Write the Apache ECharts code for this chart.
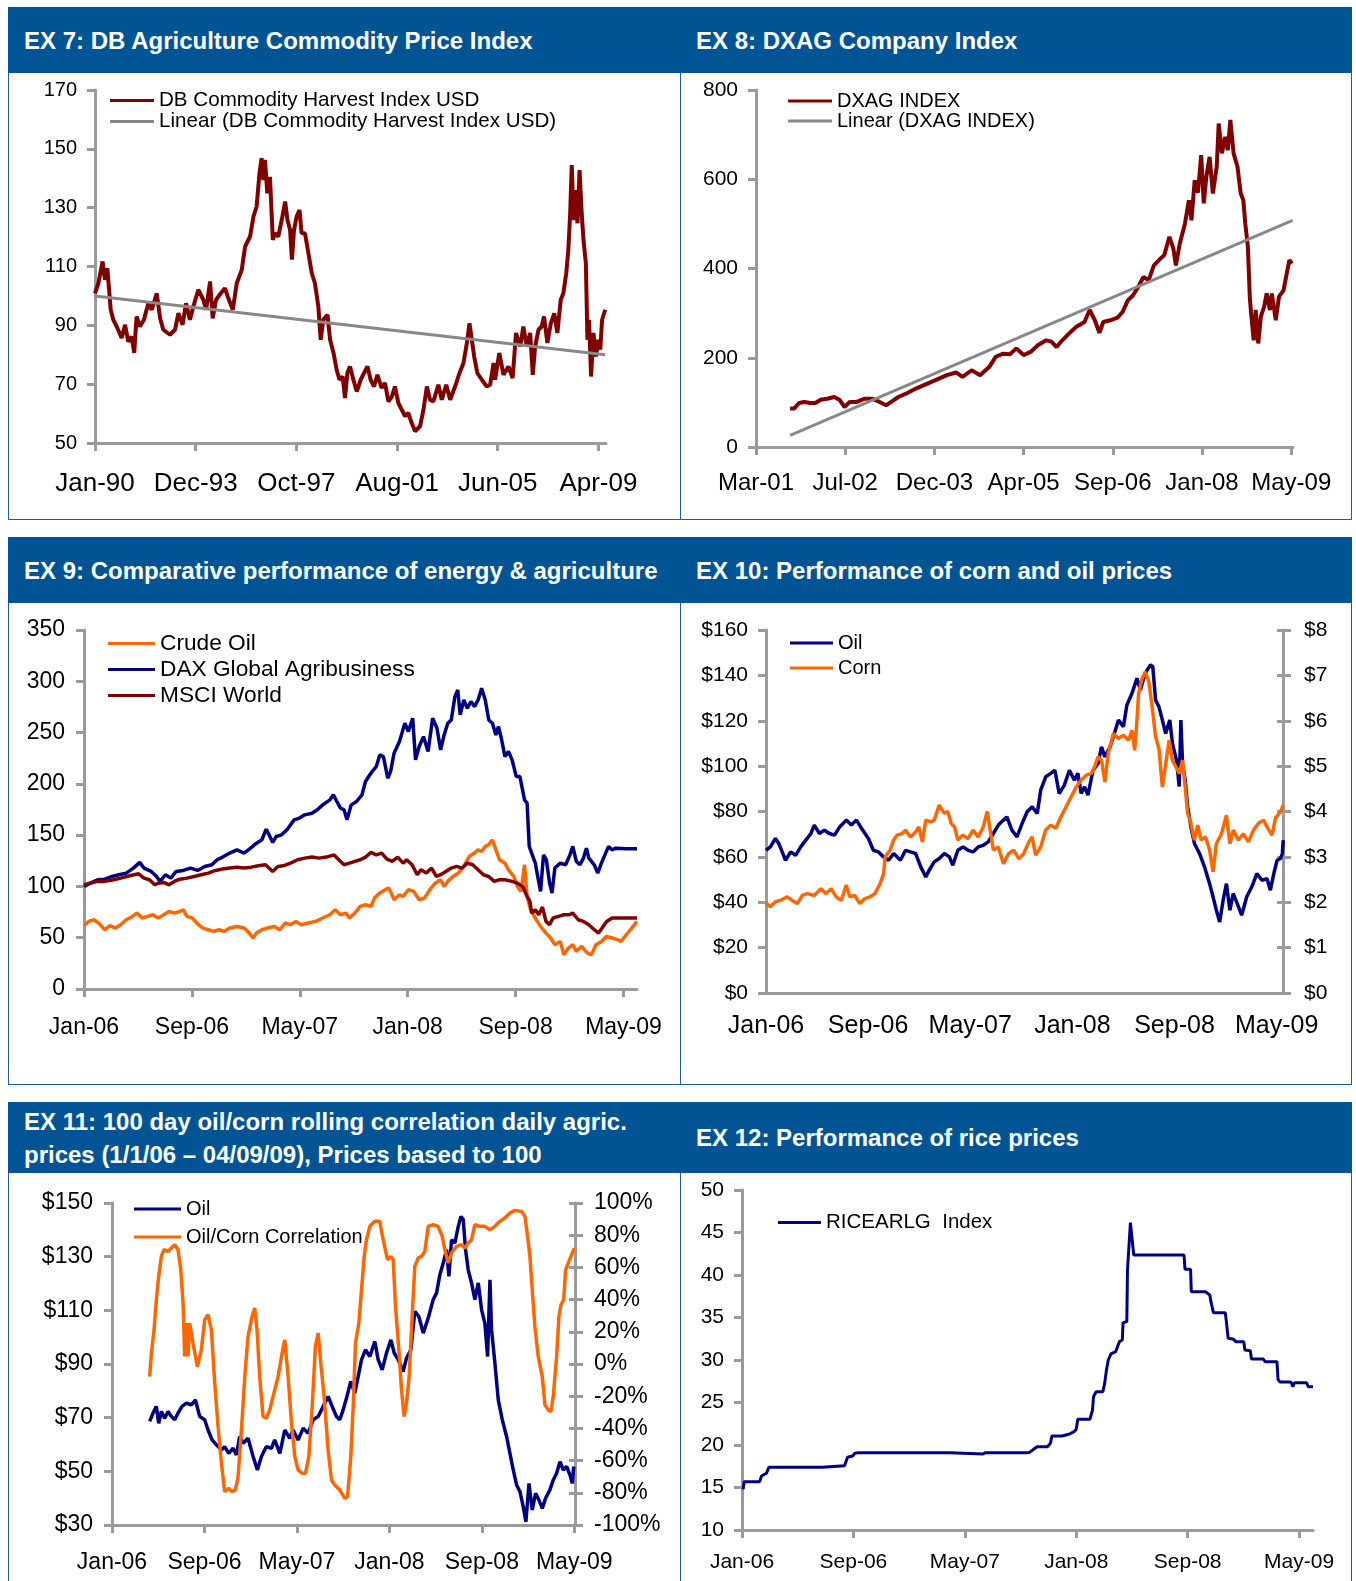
<!DOCTYPE html>
<html lang="en">
<head>
<meta charset="UTF-8" />
<title>Agriculture commodity charts</title>
<script src="https://cdn.jsdelivr.net/npm/echarts@6/dist/echarts.min.js"></script>
<style>
  body { margin: 0; background: #fff; font-family: "Liberation Sans", Arial, sans-serif; }
  #page { position: relative; width: 1356px; height: 1581px; overflow: hidden; }
  .hdr { position: absolute; background: #005493; color: #fff; font-weight: bold; font-size: 24px;
         box-sizing: border-box; padding-left: 16px; display: flex; align-items: center; line-height: 33px; }
  .box { position: absolute; border: 1.5px solid #1d5d9b; border-top: none; box-sizing: border-box; }
  #chart { position: absolute; left: 0; top: 0; width: 1356px; height: 1581px; }
</style>
</head>
<body>
<div id="page">
  <div class="box" style="left:8px;top:73px;width:673px;height:447px"></div>
  <div class="box" style="left:680px;top:73px;width:672px;height:447px"></div>
  <div class="box" style="left:8px;top:603px;width:673px;height:482px"></div>
  <div class="box" style="left:680px;top:603px;width:672px;height:482px"></div>
  <div class="box" style="left:8px;top:1173px;width:673px;height:430px"></div>
  <div class="box" style="left:680px;top:1173px;width:672px;height:430px"></div>
  <div class="hdr" style="left:8px;top:7px;width:672px;height:66px">EX 7: DB Agriculture Commodity Price Index</div>
  <div class="hdr" style="left:680px;top:7px;width:672px;height:66px">EX 8: DXAG Company Index</div>
  <div class="hdr" style="left:8px;top:537px;width:672px;height:66px">EX 9: Comparative performance of energy &amp; agriculture</div>
  <div class="hdr" style="left:680px;top:537px;width:672px;height:66px">EX 10: Performance of corn and oil prices</div>
  <div class="hdr" style="left:8px;top:1102px;width:672px;height:71px">EX 11: 100 day oil/corn rolling correlation daily agric.<br>prices (1/1/06 – 04/09/09), Prices based to 100</div>
  <div class="hdr" style="left:680px;top:1102px;width:672px;height:71px">EX 12: Performance of rice prices</div>
  <div id="chart"></div>
</div>
<script>
// tick positions and labels (x in decimal years for EX7/EX8, months since Jan-06 for the rest)
var ex7Ticks = [1990, 1993.85, 1997.70, 2001.55, 2005.40, 2009.25];
var ex7Labels = ["Jan-90", "Dec-93", "Oct-97", "Aug-01", "Jun-05", "Apr-09"];
var ex8Ticks = [2001.164, 2002.540, 2003.916, 2005.291, 2006.667, 2008.043, 2009.419];
var ex8Labels = ["Mar-01", "Jul-02", "Dec-03", "Apr-05", "Sep-06", "Jan-08", "May-09"];
var monthTicks = [0, 8, 16, 24, 32, 40];
var monthLabels = ["Jan-06", "Sep-06", "May-07", "Jan-08", "Sep-08", "May-09"];

// EX 7
var harvestIndex = [[1990.00,100.9],[1990.13,104.3],[1990.29,111.7],[1990.38,105.5],[1990.47,109.4],[1990.55,100.9],[1990.60,95.3],[1990.70,91.9],[1990.83,89.6],[1991.02,85.7],[1991.15,90.2],[1991.27,84.5],[1991.40,86.2],[1991.50,80.6],[1991.59,93.0],[1991.72,89.6],[1991.87,91.9],[1992.04,97.5],[1992.17,95.3],[1992.36,100.9],[1992.49,92.4],[1992.61,88.5],[1992.87,86.8],[1993.06,88.5],[1993.19,94.1],[1993.35,90.2],[1993.48,97.5],[1993.63,91.9],[1993.76,96.4],[1993.95,102.1],[1994.14,98.7],[1994.25,95.3],[1994.40,104.9],[1994.50,92.4],[1994.63,98.7],[1994.81,100.9],[1994.97,102.6],[1995.10,99.2],[1995.27,95.3],[1995.42,104.3],[1995.61,108.8],[1995.74,116.8],[1995.93,120.2],[1996.06,127.0],[1996.18,130.4],[1996.29,141.7],[1996.37,146.8],[1996.44,139.4],[1996.50,146.2],[1996.59,134.9],[1996.69,140.5],[1996.80,119.0],[1996.88,121.3],[1997.01,120.2],[1997.14,125.8],[1997.27,132.1],[1997.36,125.8],[1997.46,122.4],[1997.53,112.3],[1997.61,122.4],[1997.71,127.0],[1997.82,129.2],[1997.90,121.3],[1998.03,121.3],[1998.16,114.5],[1998.29,107.7],[1998.41,104.3],[1998.54,96.4],[1998.63,85.1],[1998.73,91.9],[1998.89,93.6],[1998.99,85.1],[1999.12,80.6],[1999.24,74.9],[1999.35,71.5],[1999.47,72.6],[1999.56,65.3],[1999.65,73.8],[1999.75,76.0],[1999.88,71.5],[2000.01,67.5],[2000.16,71.5],[2000.29,73.8],[2000.42,76.0],[2000.54,71.5],[2000.67,69.2],[2000.80,73.2],[2000.96,68.7],[2001.09,70.4],[2001.22,64.1],[2001.35,65.8],[2001.47,69.2],[2001.60,63.6],[2001.73,61.3],[2001.86,59.1],[2001.98,60.2],[2002.11,56.8],[2002.24,54.0],[2002.43,55.7],[2002.56,61.3],[2002.69,69.2],[2002.81,64.7],[2002.94,64.1],[2003.13,69.8],[2003.26,64.7],[2003.43,69.8],[2003.58,64.7],[2003.77,69.2],[2003.94,73.8],[2004.09,77.2],[2004.22,84.0],[2004.32,90.7],[2004.41,85.1],[2004.50,79.4],[2004.62,73.8],[2004.79,71.5],[2004.98,69.2],[2005.11,69.8],[2005.24,77.2],[2005.30,71.5],[2005.46,80.6],[2005.62,73.2],[2005.81,76.0],[2005.97,72.1],[2006.10,87.4],[2006.26,82.8],[2006.38,89.6],[2006.51,82.8],[2006.64,87.4],[2006.74,73.2],[2006.83,82.8],[2006.96,88.5],[2007.08,89.6],[2007.17,93.0],[2007.30,84.0],[2007.43,90.7],[2007.56,94.1],[2007.68,87.4],[2007.81,98.7],[2007.91,100.9],[2008.02,107.7],[2008.10,115.6],[2008.17,128.1],[2008.23,144.5],[2008.30,125.8],[2008.36,136.0],[2008.45,124.7],[2008.53,142.8],[2008.61,128.1],[2008.68,119.0],[2008.77,111.1],[2008.83,85.1],[2008.89,91.9],[2008.97,72.6],[2009.06,87.4],[2009.16,79.4],[2009.25,85.1],[2009.32,81.7],[2009.39,91.9],[2009.51,95.3]];
var harvestTrend = [[1990.00,100.0],[2009.51,80.0]];

// EX 8
var dxagIndex = [[2001.69,86],[2001.75,86],[2001.83,98.7],[2001.91,101],[2002.00,98.7],[2002.08,98.7],[2002.16,106],[2002.26,108],[2002.37,112],[2002.45,106],[2002.53,89.7],[2002.61,101],[2002.72,101],[2002.83,108],[2002.96,108],[2003.07,101],[2003.17,93.5],[2003.25,101],[2003.36,112],[2003.50,121],[2003.63,131],[2003.79,141],[2003.95,151],[2004.11,161],[2004.25,167],[2004.35,157],[2004.49,172],[2004.62,161],[2004.76,179],[2004.86,202],[2004.97,209],[2005.08,208],[2005.18,221],[2005.29,206],[2005.40,213],[2005.51,228],[2005.64,239],[2005.72,236],[2005.80,224],[2005.88,238],[2005.99,254],[2006.10,269],[2006.23,280],[2006.31,307],[2006.39,284],[2006.46,256],[2006.52,280],[2006.63,284],[2006.74,290],[2006.82,303],[2006.90,329],[2006.98,340],[2007.06,359],[2007.14,381],[2007.22,374],[2007.30,407],[2007.38,419],[2007.46,430],[2007.54,471],[2007.60,445],[2007.64,407],[2007.70,456],[2007.78,501],[2007.84,553],[2007.88,508],[2007.93,598],[2007.98,570],[2008.03,654],[2008.07,546],[2008.11,606],[2008.16,650],[2008.21,568],[2008.27,628],[2008.30,725],[2008.35,658],[2008.40,695],[2008.44,665],[2008.48,733],[2008.53,658],[2008.59,628],[2008.64,568],[2008.68,553],[2008.71,501],[2008.75,449],[2008.78,336],[2008.80,299],[2008.84,239],[2008.87,307],[2008.91,232],[2008.95,292],[2009.00,314],[2009.04,344],[2009.09,307],[2009.12,344],[2009.18,284],[2009.23,337],[2009.30,351],[2009.35,389],[2009.39,419],[2009.43,411]];
var dxagTrend = [[2001.69,26],[2009.44,508]];

// EX 9
var crudeOil = [[0.00,61.7],[0.34,65.9],[0.74,67.5],[1.14,63.6],[1.54,57.8],[1.93,61.7],[2.33,59.4],[2.73,62.7],[3.13,67.5],[3.52,70.1],[3.92,74.0],[4.32,69.2],[4.72,70.8],[5.11,72.4],[5.51,69.2],[5.91,72.4],[6.30,75.6],[6.70,74.0],[7.10,75.6],[7.36,77.3],[7.63,70.8],[8.03,69.2],[8.42,63.6],[8.82,59.4],[9.22,57.8],[9.62,56.2],[10.01,57.8],[10.41,56.2],[10.81,59.4],[11.34,61.0],[11.87,59.4],[12.26,54.5],[12.53,49.7],[12.79,54.5],[13.19,57.8],[13.59,59.4],[14.12,61.0],[14.52,57.8],[14.91,64.3],[15.31,62.7],[15.71,65.9],[16.11,62.7],[16.64,64.3],[17.17,65.9],[17.70,69.2],[18.23,72.4],[18.62,77.3],[19.02,72.4],[19.42,74.0],[19.68,69.2],[20.08,74.0],[20.48,80.5],[20.87,82.1],[21.27,80.5],[21.54,88.6],[21.93,93.5],[22.33,96.8],[22.60,98.4],[22.99,87.0],[23.39,91.9],[23.66,90.3],[24.05,96.8],[24.45,95.1],[24.85,87.0],[25.24,88.6],[25.64,96.8],[26.04,103.2],[26.44,106.5],[26.70,100.0],[26.97,104.9],[27.36,109.7],[27.76,113.0],[28.16,119.5],[28.56,129.2],[28.95,132.5],[29.22,135.7],[29.48,134.1],[29.75,139.0],[30.01,140.6],[30.28,145.5],[30.54,135.7],[30.81,126.0],[31.21,122.7],[31.47,116.2],[31.87,109.7],[32.13,100.0],[32.40,95.1],[32.66,121.1],[32.85,90.3],[33.11,77.3],[33.46,69.2],[33.85,61.0],[34.25,54.5],[34.60,49.7],[34.91,43.2],[35.31,46.4],[35.58,33.4],[35.92,39.9],[36.24,43.2],[36.50,36.7],[36.90,41.6],[37.30,35.1],[37.62,33.4],[37.96,43.2],[38.36,46.4],[38.75,51.3],[39.15,49.7],[39.55,48.1],[39.81,46.4],[40.21,52.9],[40.61,59.4],[41.00,65.9]];
var daxAgri = [[0.00,100.0],[0.48,103.2],[1.01,106.5],[1.54,107.1],[2.07,109.7],[2.60,111.4],[3.13,113.0],[3.66,117.9],[4.13,123.4],[4.45,117.9],[4.98,114.6],[5.38,109.7],[5.64,104.9],[6.04,111.4],[6.44,108.1],[6.83,114.6],[7.36,115.6],[7.89,117.9],[8.42,115.6],[8.95,119.5],[9.48,121.1],[9.88,126.0],[10.28,128.6],[10.81,132.5],[11.34,135.7],[11.87,132.5],[12.26,136.4],[12.79,142.2],[13.19,145.5],[13.51,155.8],[13.72,150.3],[13.99,142.9],[14.25,148.7],[14.65,150.3],[15.05,155.2],[15.58,164.9],[15.97,166.6],[16.37,169.8],[16.90,171.4],[17.30,174.7],[17.70,179.5],[18.23,184.4],[18.49,189.3],[18.75,182.8],[19.02,176.3],[19.28,174.7],[19.50,164.9],[19.81,179.5],[20.21,182.8],[20.61,189.3],[20.87,202.3],[21.27,210.4],[21.67,216.9],[21.93,228.2],[22.20,226.6],[22.52,205.5],[22.73,212.0],[22.99,229.9],[23.39,241.2],[23.79,259.1],[24.05,251.0],[24.37,264.0],[24.58,223.4],[24.85,236.4],[25.17,246.1],[25.51,231.5],[25.85,264.0],[26.17,254.2],[26.44,233.1],[26.70,247.7],[26.97,259.1],[27.23,262.3],[27.50,285.1],[27.71,291.6],[27.89,267.2],[28.16,281.8],[28.42,273.7],[28.69,280.2],[28.95,275.3],[29.22,281.8],[29.48,293.2],[29.75,281.8],[30.01,262.3],[30.28,259.1],[30.54,247.7],[30.73,255.8],[30.94,244.5],[31.21,226.6],[31.47,231.5],[31.74,223.4],[32.05,207.1],[32.32,207.1],[32.66,184.4],[32.85,181.2],[33.01,139.0],[33.19,132.5],[33.46,122.7],[33.64,109.7],[33.85,95.1],[34.07,130.8],[34.28,126.0],[34.52,103.2],[34.70,93.5],[34.91,117.9],[35.31,122.7],[35.71,121.1],[36.03,130.8],[36.24,139.0],[36.50,124.4],[36.77,121.1],[37.03,127.6],[37.25,137.3],[37.43,127.6],[37.83,121.1],[38.09,113.0],[38.36,122.7],[38.62,130.8],[38.89,139.0],[39.15,135.7],[39.42,137.3],[40.21,136.7],[41.00,136.7]];
var msciWorld = [[0.00,101.6],[0.48,103.2],[1.01,104.9],[1.54,104.9],[2.20,106.5],[2.73,108.1],[3.39,110.4],[4.05,112.3],[4.45,108.1],[4.85,106.5],[5.25,101.6],[5.51,103.2],[5.91,103.9],[6.30,101.6],[6.70,104.9],[7.10,107.1],[7.63,108.1],[8.16,109.7],[8.69,111.4],[9.22,113.0],[9.75,115.6],[10.28,116.9],[10.81,117.9],[11.34,118.8],[11.87,117.9],[12.40,118.8],[12.93,120.1],[13.46,121.1],[13.99,114.6],[14.38,119.5],[14.78,120.1],[15.31,122.7],[15.84,126.0],[16.37,127.6],[16.90,128.6],[17.43,127.6],[17.96,128.6],[18.54,130.8],[18.89,126.0],[19.28,121.1],[19.68,122.7],[20.08,124.4],[20.48,126.0],[20.87,128.6],[21.27,133.1],[21.67,130.8],[22.07,132.5],[22.46,126.6],[22.86,124.4],[23.26,128.6],[23.66,122.7],[23.92,126.0],[24.32,121.1],[24.71,111.4],[24.98,116.2],[25.38,113.0],[25.77,117.9],[26.12,109.7],[26.44,111.4],[26.83,114.6],[27.23,117.9],[27.63,119.5],[28.03,117.9],[28.42,122.7],[28.82,121.1],[29.22,116.2],[29.62,111.4],[30.01,109.7],[30.41,104.9],[30.81,106.5],[31.21,106.5],[31.74,104.9],[32.13,103.2],[32.53,100.0],[32.79,91.9],[33.06,85.4],[33.19,74.0],[33.46,77.3],[33.72,72.4],[33.99,79.9],[34.25,65.9],[34.52,62.7],[34.78,69.2],[35.18,70.8],[35.58,72.4],[35.97,72.4],[36.24,74.0],[36.64,67.5],[37.03,65.9],[37.43,62.7],[37.83,57.8],[38.15,54.5],[38.41,59.4],[38.75,65.9],[39.15,69.2],[39.95,69.2],[41.00,69.2]];

// EX 10 (oil $/bbl left axis, corn $/bu right axis)
var oilPrice = [[0.00,62.9],[0.34,64.4],[0.74,68.1],[1.00,65.9],[1.27,62.2],[1.53,58.5],[1.93,62.2],[2.32,60.7],[2.72,64.4],[3.12,67.4],[3.52,70.3],[3.78,74.0],[4.18,70.3],[4.57,71.8],[4.97,70.3],[5.37,69.6],[5.77,73.2],[6.29,76.2],[6.69,74.0],[7.09,76.2],[7.49,72.5],[8.02,68.1],[8.41,62.9],[8.81,62.2],[9.21,60.0],[9.60,58.5],[10.00,61.5],[10.53,58.5],[10.93,62.9],[11.32,62.2],[11.72,61.5],[12.12,55.6],[12.52,51.2],[12.78,54.1],[13.18,57.8],[13.57,59.3],[13.97,61.5],[14.37,60.0],[14.63,56.3],[15.03,62.9],[15.43,64.4],[15.83,62.9],[16.22,62.2],[16.62,64.4],[17.02,65.1],[17.41,66.6],[17.81,70.3],[18.20,74.0],[18.60,76.2],[18.87,77.6],[19.26,71.8],[19.66,68.8],[20.06,74.7],[20.46,79.9],[20.85,82.1],[21.25,79.1],[21.52,89.4],[21.91,95.3],[22.31,96.8],[22.63,98.2],[22.97,87.9],[23.37,91.6],[23.77,98.2],[24.16,93.8],[24.43,96.8],[24.69,87.9],[24.96,90.9],[25.22,87.2],[25.62,98.2],[26.02,101.2],[26.28,108.5],[26.55,104.1],[26.95,108.5],[27.29,114.4],[27.61,120.3],[28.00,117.4],[28.27,126.9],[28.67,132.1],[29.06,138.7],[29.33,133.5],[29.59,138.7],[29.86,142.4],[30.12,144.6],[30.30,143.8],[30.52,129.1],[30.78,126.2],[31.05,120.3],[31.31,114.4],[31.63,120.3],[31.84,110.0],[32.16,102.6],[32.37,91.0],[32.50,120.3],[32.63,101.2],[32.84,93.8],[33.03,82.1],[33.29,73.2],[33.56,65.9],[33.96,61.5],[34.35,55.6],[34.75,48.2],[35.02,42.4],[35.28,36.5],[35.54,31.3],[35.81,40.9],[36.07,48.2],[36.34,36.5],[36.60,43.8],[36.92,39.4],[37.26,34.3],[37.66,42.4],[38.06,46.8],[38.45,52.6],[38.85,49.7],[39.25,50.4],[39.51,45.3],[39.78,52.6],[40.04,58.5],[40.31,59.3],[40.45,61.5],[40.52,67.4]];
var cornPrice = [[0.00,1.99],[0.34,1.90],[0.74,2.01],[1.13,2.04],[1.66,2.12],[2.06,2.04],[2.46,1.97],[2.85,2.15],[3.25,2.19],[3.78,2.15],[4.31,2.30],[4.71,2.19],[5.10,2.30],[5.50,2.12],[5.90,2.04],[6.29,2.38],[6.56,2.12],[6.96,2.15],[7.35,1.97],[7.75,2.08],[8.15,2.12],[8.54,2.19],[8.94,2.41],[9.21,2.63],[9.34,3.00],[9.73,3.15],[10.00,3.37],[10.26,3.48],[10.66,3.51],[10.93,3.59],[11.32,3.44],[11.72,3.55],[11.98,3.66],[12.25,3.33],[12.52,3.81],[12.91,3.77],[13.18,3.81],[13.57,4.14],[13.97,3.96],[14.24,4.00],[14.50,3.74],[14.77,3.66],[15.03,3.37],[15.43,3.48],[15.83,3.40],[16.22,3.59],[16.62,3.44],[17.02,3.66],[17.33,4.00],[17.54,3.63],[17.81,3.15],[18.20,3.22],[18.60,2.85],[19.00,3.07],[19.40,3.15],[19.80,2.96],[20.19,3.07],[20.59,3.33],[20.85,3.44],[21.12,3.04],[21.52,3.22],[21.91,3.59],[22.31,3.70],[22.71,3.63],[23.10,3.88],[23.50,4.10],[23.90,4.32],[24.30,4.54],[24.69,4.69],[25.09,4.80],[25.49,4.84],[25.75,4.99],[26.02,5.21],[26.28,5.13],[26.55,4.65],[26.81,5.28],[27.21,5.72],[27.61,5.61],[28.00,5.68],[28.40,5.57],[28.67,5.79],[28.88,5.35],[29.06,6.01],[29.19,6.60],[29.46,6.93],[29.72,7.08],[29.99,6.86],[30.25,6.31],[30.52,5.65],[30.78,5.39],[31.05,4.54],[31.31,5.04],[31.58,5.57],[31.84,5.13],[32.10,4.99],[32.37,4.84],[32.63,5.13],[32.84,4.54],[33.03,3.96],[33.29,3.74],[33.56,3.37],[33.82,3.70],[34.09,3.37],[34.43,3.44],[34.75,3.15],[35.02,2.67],[35.28,3.29],[35.68,3.51],[36.07,3.92],[36.34,3.29],[36.60,3.59],[37.00,3.37],[37.39,3.51],[37.79,3.33],[38.19,3.59],[38.58,3.74],[38.98,3.81],[39.25,3.66],[39.64,3.48],[39.91,3.85],[40.31,4.00],[40.52,4.14]];

// EX 11 (oil $ left axis, correlation % right axis)
var oilRebased = [[3.26,68.6],[3.55,71.7],[3.84,74.2],[4.04,67.9],[4.27,72.3],[4.56,69.8],[4.85,72.3],[5.14,70.4],[5.43,69.2],[5.71,71.7],[6.06,74.2],[6.44,75.4],[6.87,74.8],[7.22,76.6],[7.59,70.4],[8.02,69.2],[8.31,65.4],[8.66,61.7],[9.03,59.9],[9.47,58.0],[9.75,59.2],[10.10,56.7],[10.48,58.6],[10.76,56.1],[11.05,63.0],[11.34,60.5],[11.77,62.3],[12.21,55.5],[12.58,50.5],[12.93,55.5],[13.36,59.2],[13.80,58.6],[14.08,61.7],[14.52,56.7],[14.95,65.4],[15.38,62.3],[15.67,65.4],[16.10,61.7],[16.54,66.1],[16.97,64.2],[17.40,69.2],[17.84,70.4],[18.27,74.2],[18.70,77.9],[19.05,74.2],[19.42,70.4],[19.71,69.2],[20.00,72.9],[20.29,77.3],[20.66,83.5],[21.01,79.1],[21.30,85.3],[21.59,91.6],[21.93,95.3],[22.31,92.8],[22.74,98.4],[23.03,91.6],[23.38,87.8],[23.75,94.1],[24.13,99.0],[24.42,94.1],[24.76,91.6],[25.19,87.2],[25.48,92.2],[25.86,95.3],[26.20,109.6],[26.55,107.7],[26.93,101.5],[27.36,107.1],[27.79,114.0],[28.08,116.4],[28.37,123.3],[28.66,127.6],[28.95,132.6],[29.15,122.7],[29.38,136.3],[29.67,135.1],[29.96,141.3],[30.19,145.0],[30.39,143.8],[30.59,132.6],[30.82,125.1],[31.11,120.2],[31.40,114.0],[31.69,120.2],[31.98,110.2],[32.26,105.2],[32.50,92.8],[32.70,121.4],[32.84,102.8],[33.13,90.3],[33.42,76.6],[33.77,69.2],[34.14,63.0],[34.43,56.7],[34.72,50.5],[35.01,44.9],[35.30,42.4],[35.58,36.8],[35.81,31.2],[36.08,45.5],[36.36,35.6],[36.65,41.8],[36.94,39.3],[37.23,36.2],[37.52,40.0],[37.89,43.1],[38.18,46.8],[38.47,49.3],[38.76,53.6],[39.05,50.5],[39.34,51.8],[39.62,48.7],[39.83,45.5],[39.95,51.8]];
var oilCornCorr = [[3.26,-7.8],[3.41,6.7],[3.64,21.2],[3.84,39.9],[4.04,54.4],[4.27,66.8],[4.50,71.0],[4.85,69.9],[5.14,72.0],[5.43,74.1],[5.71,71.0],[5.95,58.5],[6.15,37.8],[6.29,4.7],[6.44,25.4],[6.58,4.7],[6.72,25.4],[7.01,13.0],[7.39,-1.6],[7.73,8.8],[8.02,27.5],[8.31,30.6],[8.60,21.2],[8.89,-11.9],[9.18,-38.9],[9.47,-61.7],[9.75,-79.3],[10.10,-77.2],[10.39,-79.3],[10.68,-78.2],[10.91,-69.9],[11.20,-40.9],[11.49,-7.8],[11.77,17.1],[12.12,29.5],[12.35,34.7],[12.55,21.2],[12.78,-7.8],[13.07,-32.6],[13.36,-33.7],[13.65,-28.5],[13.94,-20.2],[14.37,-7.8],[14.72,6.7],[14.95,15.0],[15.24,-7.8],[15.53,-36.8],[15.82,-57.5],[16.10,-65.8],[16.45,-67.9],[16.74,-67.9],[17.03,-57.5],[17.32,-26.4],[17.60,10.9],[17.84,19.2],[18.07,0.5],[18.35,-20.2],[18.70,-53.4],[18.99,-72.0],[19.28,-75.1],[19.71,-78.2],[20.14,-83.4],[20.38,-82.4],[20.66,-57.5],[20.87,-26.4],[21.07,13.0],[21.36,25.4],[21.59,46.1],[21.82,66.8],[22.02,77.2],[22.31,85.5],[22.74,88.6],[23.17,88.6],[23.46,77.2],[23.84,64.8],[24.13,66.8],[24.33,64.8],[24.53,35.8],[24.82,8.8],[25.05,-16.1],[25.28,-32.6],[25.48,-24.4],[25.71,-7.8],[25.97,29.5],[26.20,60.6],[26.49,65.8],[26.78,66.8],[27.07,69.9],[27.36,85.5],[27.79,86.5],[28.22,85.5],[28.57,79.3],[28.80,71.0],[29.09,62.7],[29.38,68.9],[29.81,73.1],[30.24,74.1],[30.53,72.0],[30.82,75.1],[31.11,77.2],[31.40,86.5],[31.83,85.5],[32.26,85.5],[32.70,83.4],[33.13,85.5],[33.56,88.6],[34.00,90.7],[34.43,93.8],[34.86,95.4],[35.44,94.8],[35.73,91.7],[35.96,79.3],[36.16,66.8],[36.36,46.1],[36.59,23.2],[36.88,4.7],[37.23,-7.8],[37.46,-25.4],[37.75,-28.5],[37.98,-29.5],[38.18,-20.2],[38.47,4.7],[38.67,29.5],[38.85,36.8],[39.08,39.9],[39.25,58.5],[39.48,62.7],[39.77,67.9],[40.00,72.0]];

// EX 12
var riceIndex = [[0.08,14.78],[0.16,15.69],[1.27,15.69],[1.40,16.35],[1.75,16.67],[1.93,17.37],[5.77,17.37],[5.83,17.57],[7.36,17.57],[7.58,18.55],[7.95,18.71],[8.11,19.02],[8.37,19.10],[14.91,19.10],[15.05,18.94],[17.30,18.94],[17.48,19.10],[20.61,19.10],[20.87,19.41],[21.19,19.80],[21.93,19.80],[22.15,20.20],[22.25,21.06],[22.99,21.06],[23.13,21.18],[23.52,21.29],[23.84,21.57],[24.00,21.84],[24.11,23.02],[24.98,23.02],[25.17,24.12],[25.24,25.69],[25.43,26.27],[25.91,26.27],[26.04,27.25],[26.17,28.82],[26.30,30.00],[26.49,30.71],[26.83,30.98],[26.97,31.18],[27.10,32.16],[27.31,32.35],[27.36,34.39],[27.63,34.51],[27.68,40.59],[27.81,40.78],[27.89,46.16],[28.03,46.16],[28.13,42.35],[31.74,42.35],[31.81,40.67],[32.21,40.67],[32.26,38.04],[33.27,38.04],[33.38,37.84],[33.59,37.65],[33.67,36.86],[33.85,35.57],[34.70,35.57],[34.78,34.51],[34.91,32.55],[35.31,32.43],[35.44,32.16],[36.03,32.16],[36.11,31.18],[36.50,31.10],[36.58,30.12],[37.43,30.12],[37.56,29.80],[38.41,29.80],[38.49,27.73],[38.62,27.41],[39.42,27.41],[39.55,26.86],[39.68,27.33],[40.53,27.33],[40.66,26.86],[41.00,26.86]];

var gray = "#9a9a9a";
var maroon = "#800000", navy = "#000080", orange = "#ff6600", trendGray = "#888888";
var font = "Liberation Sans, Arial, sans-serif";

function xAxis(grid, min, max, ticks, labels, size, margin, showTick) {
  return {
    type: "value", gridIndex: grid, min: min, max: max,
    axisLine: { show: true, onZero: false, lineStyle: { color: gray, width: 3 } },
    axisTick: { show: showTick, customValues: ticks, length: 8, lineStyle: { color: gray, width: 3 } },
    axisLabel: {
      customValues: ticks, fontSize: size, margin: margin, color: "#000", fontFamily: font,
      formatter: function (v) {
        for (var i = 0; i < ticks.length; i++) if (Math.abs(ticks[i] - v) < 1e-6) return labels[i];
        return "";
      }
    },
    splitLine: { show: false }
  };
}

function yAxis(grid, min, max, step, size, margin, fmt, pos, tickInside, hideLabel) {
  return {
    type: "value", gridIndex: grid, min: min, max: max, interval: step, position: pos || "left",
    axisLine: { show: !hideLabel, onZero: false, lineStyle: { color: gray, width: 3 } },
    axisTick: { show: true, inside: !!tickInside, length: hideLabel ? 6 : 8, lineStyle: { color: gray, width: 3 } },
    axisLabel: { show: !hideLabel, fontSize: size, margin: margin, color: "#000", fontFamily: font, formatter: fmt },
    splitLine: { show: false }
  };
}

function line(name, data, color, xi, yi, w) {
  return {
    name: name, type: "line", data: data, xAxisIndex: xi, yAxisIndex: yi,
    showSymbol: false, symbol: "none", color: color,
    lineStyle: { color: color, width: w || 3.5 }, animation: false
  };
}

function legend(names, left, top, size, lh, gap, width) {
  return {
    data: names, left: left, top: top, orient: "vertical", padding: 0,
    icon: "rect", itemWidth: width, itemHeight: 3, itemGap: gap,
    textStyle: { fontSize: size, lineHeight: lh, color: "#000", fontFamily: font }
  };
}

var dollar = function (v) { return "$" + v; };
var pct = function (v) { return v + "%"; };

var chart = echarts.init(document.getElementById("chart"));
chart.setOption({
  animation: false,
  textStyle: { fontFamily: font },
  grid: [
    { left: 95, top: 90, width: 511, height: 353 },
    { left: 756, top: 90, width: 537, height: 357 },
    { left: 84, top: 630, width: 553, height: 359 },
    { left: 766, top: 630, width: 517, height: 363 },
    { left: 112, top: 1203, width: 463, height: 322 },
    { left: 742, top: 1190, width: 571, height: 340 }
  ],
  xAxis: [
    xAxis(0, 1990, 2009.54, ex7Ticks, ex7Labels, 26, 28, true),
    xAxis(1, 2001.164, 2009.446, ex8Ticks, ex8Labels, 24, 24, true),
    xAxis(2, 0, 41, monthTicks, monthLabels, 23, 27, true),
    xAxis(3, 0, 40.5, monthTicks, monthLabels, 25, 21, false),
    xAxis(4, 0, 40.06, monthTicks, monthLabels, 23, 26, true),
    xAxis(5, 0, 41, monthTicks, monthLabels, 21, 22, true)
  ],
  yAxis: [
    yAxis(0, 50, 170, 20, 20, 18),
    yAxis(1, 0, 800, 200, 21, 18),
    yAxis(2, 0, 350, 50, 23, 19),
    yAxis(3, 0, 160, 20, 21, 18, dollar),
    yAxis(3, 0, 8, 1, 21, 21, dollar, "right", false),
    yAxis(3, 0, 8, 1, 21, 21, dollar, "right", true, true),
    yAxis(4, 30, 150, 20, 23, 19, dollar),
    yAxis(4, -100, 100, 20, 23, 19, pct, "right", false),
    yAxis(4, -100, 100, 20, 23, 19, pct, "right", true, true),
    yAxis(5, 10, 50, 5, 21, 18)
  ],
  legend: [
    legend(["DB Commodity Harvest Index USD", "Linear (DB Commodity Harvest Index USD)"], 110, 90, 20.6, 20, 0, 44),
    legend(["DXAG INDEX", "Linear (DXAG INDEX)"], 788, 91, 20, 20, 0, 44),
    legend(["Crude Oil", "DAX Global Agribusiness", "MSCI World"], 108, 632, 22.7, 22, 3, 47),
    legend(["Oil", "Corn"], 790, 633, 20, 20, 5, 43),
    legend(["Oil", "Oil/Corn Correlation"], 134, 1199, 20, 20, 8, 47),
    legend(["RICEARLG  Index"], 778, 1212, 20.5, 20, 0, 43)
  ],
  series: [
    line("DB Commodity Harvest Index USD", harvestIndex, maroon, 0, 0, 4),
    line("Linear (DB Commodity Harvest Index USD)", harvestTrend, trendGray, 0, 0, 3),
    line("DXAG INDEX", dxagIndex, maroon, 1, 1, 4),
    line("Linear (DXAG INDEX)", dxagTrend, trendGray, 1, 1, 3),
    line("Crude Oil", crudeOil, orange, 2, 2),
    line("DAX Global Agribusiness", daxAgri, navy, 2, 2),
    line("MSCI World", msciWorld, maroon, 2, 2),
    line("Oil", oilPrice, navy, 3, 3),
    line("Corn", cornPrice, orange, 3, 4),
    line("Oil", oilRebased, navy, 4, 6),
    line("Oil/Corn Correlation", oilCornCorr, orange, 4, 7),
    line("RICEARLG  Index", riceIndex, navy, 5, 9, 3)
  ]
});
</script>
</body>
</html>
